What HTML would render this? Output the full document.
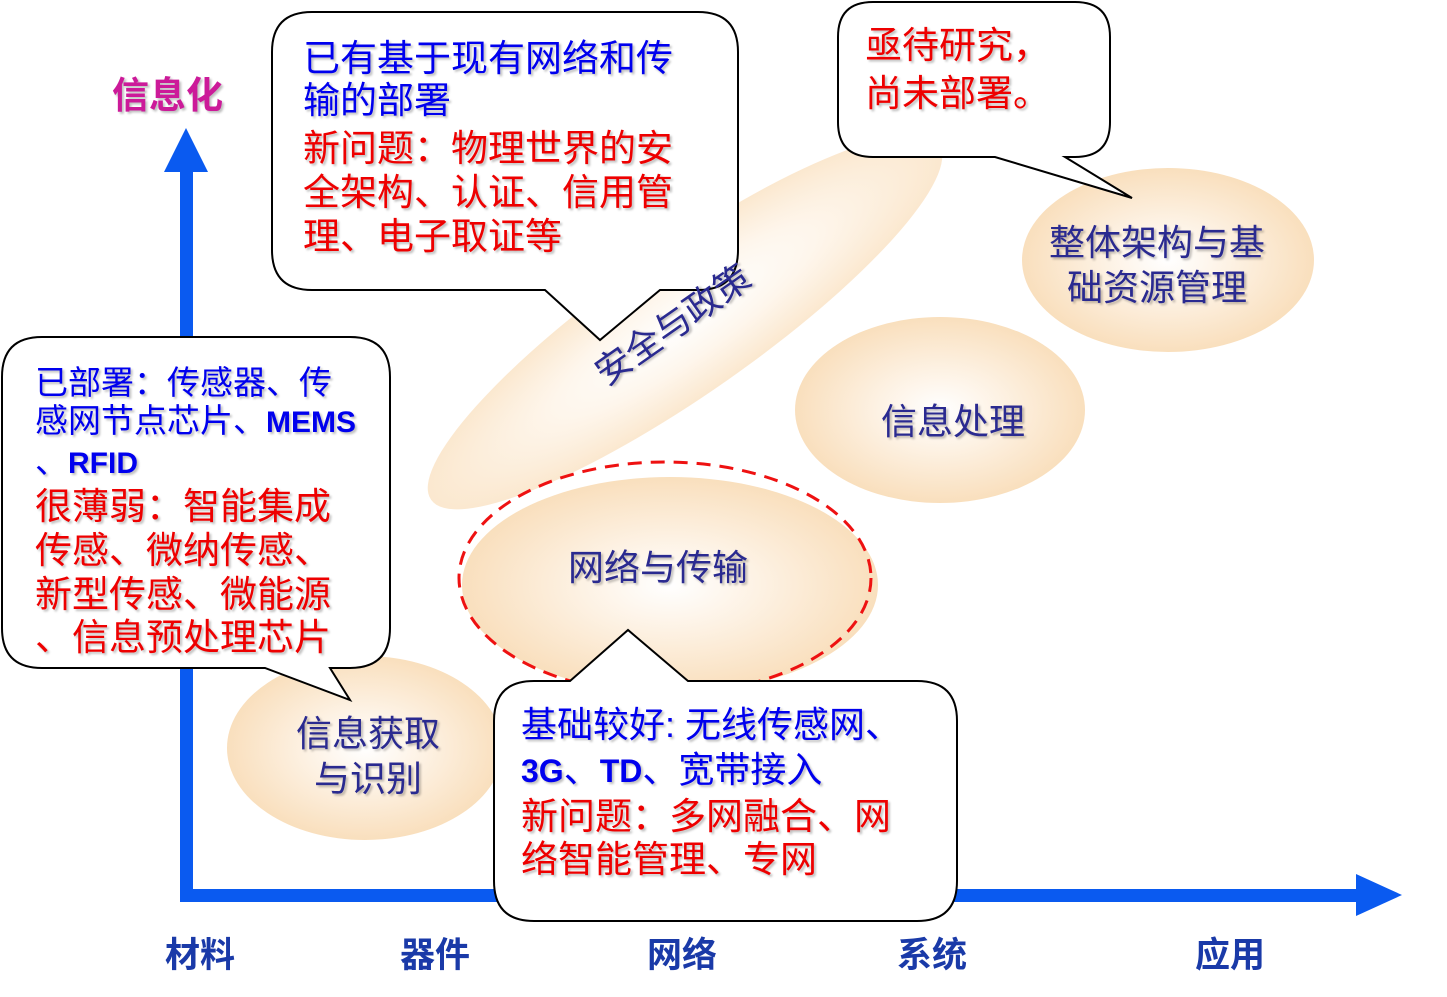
<!DOCTYPE html>
<html><head><meta charset="utf-8"><style>
html,body{margin:0;padding:0;background:#fff;}
svg{display:block;}
text{font-family:"Liberation Sans","Noto Sans CJK SC","WenQuanYi Zen Hei",sans-serif;}
.sf{font-family:"Liberation Serif","Noto Serif CJK SC",serif;}
.sh{text-shadow:2px 2px 2px rgba(0,0,0,0.25);}
.b{fill:#0000ee;}
.r{fill:#ee0000;}
.ax{fill:#1a3aa8;font-weight:bold;font-size:35px;}
.el{fill:#2a2a90;font-size:36px;}
</style></head><body>
<svg width="1447" height="997" viewBox="0 0 1447 997" xmlns="http://www.w3.org/2000/svg">
<defs>
<radialGradient id="g" cx="50%" cy="50%" r="50%">
<stop offset="0" stop-color="#ffffff"/>
<stop offset="0.45" stop-color="#fdf1e2"/>
<stop offset="1" stop-color="#f9dfbd"/>
</radialGradient>
<radialGradient id="g2" cx="50%" cy="50%" r="50%">
<stop offset="0" stop-color="#ffffff"/>
<stop offset="0.5" stop-color="#fef6ec"/>
<stop offset="1" stop-color="#fbe8cf"/>
</radialGradient>
</defs>
<ellipse cx="685" cy="322" rx="310" ry="72" fill="url(#g2)" transform="rotate(-35 685 322)"/>
<ellipse cx="1168" cy="260" rx="146" ry="92" fill="url(#g)"/>
<ellipse cx="940" cy="410" rx="145" ry="93" fill="url(#g)"/>
<ellipse cx="670" cy="585" rx="208" ry="108" fill="url(#g)"/>
<ellipse cx="365" cy="748" rx="138" ry="92" fill="url(#g)"/>
<ellipse cx="665" cy="578" rx="206" ry="116" fill="none" stroke="#ee1111" stroke-width="3" stroke-dasharray="14 9"/>

<rect x="180" y="165" width="13" height="736" fill="#0a5af0"/>
<polygon points="186,128 164,172 208,172" fill="#0a5af0"/>
<rect x="180" y="889" width="1185" height="13" fill="#0a5af0"/>
<polygon points="1402,895 1356,874 1356,916" fill="#0a5af0"/>

<text class="el sh" x="1157" y="255" text-anchor="middle">整体架构与基</text>
<text class="el sh" x="1157" y="300" text-anchor="middle">础资源管理</text>
<text class="el sh" x="953" y="434" text-anchor="middle">信息处理</text>
<text class="el sh" x="658" y="580" text-anchor="middle">网络与传输</text>
<text class="el sh" x="368" y="746" text-anchor="middle">信息获取</text>
<text class="el sh" x="368" y="791" text-anchor="middle">与识别</text>

<path d="M312,12 H698 Q738,12 738,52 V250 Q738,290 698,290 H660 L600,340 L545,290 H312 Q272,290 272,250 V52 Q272,12 312,12 Z" fill="#fff" stroke="#000" stroke-width="2"/>
<g font-size="37" class="sh sf">
<text class="b" x="303" y="71">已有基于现有网络和传</text>
<text class="b" x="303" y="113">输的部署</text>
<text class="r" x="303" y="161">新问题：物理世界的安</text>
<text class="r" x="303" y="205">全架构、认证、信用管</text>
<text class="r" x="303" y="249">理、电子取证等</text>
</g>

<text class="el sh" x="680" y="335" transform="rotate(-35 680 335)" text-anchor="middle" font-size="34">安全与政策</text>

<path d="M873,2 H1075 Q1110,2 1110,37 V122 Q1110,157 1075,157 H1065 L1132,198 L995,157 H873 Q838,157 838,122 V37 Q838,2 873,2 Z" fill="#fff" stroke="#000" stroke-width="2"/>
<g font-size="37" class="sh sf">
<text class="r" x="865" y="58">亟待研究，</text>
<text class="r" x="865" y="106">尚未部署。</text>
</g>

<path d="M42,337 H350 Q390,337 390,377 V628 Q390,668 350,668 H330 L350,700 L265,668 H42 Q2,668 2,628 V377 Q2,337 42,337 Z" fill="#fff" stroke="#000" stroke-width="2"/>
<g class="sh sf">
<text class="b" x="35" y="394" font-size="33">已部署：传感器、传</text>
<text class="b" x="35" y="432" font-size="33">感网节点芯片、<tspan font-weight="bold" font-size="30" font-family="Liberation Sans">MEMS</tspan></text>
<text class="b" x="35" y="473" font-size="33">、<tspan font-weight="bold" font-size="30" font-family="Liberation Sans">RFID</tspan></text>
<text class="r" x="35" y="519" font-size="37">很薄弱：智能集成</text>
<text class="r" x="35" y="563" font-size="37">传感、微纳传感、</text>
<text class="r" x="35" y="607" font-size="37">新型传感、微能源</text>
<text class="r" x="35" y="650" font-size="37">、信息预处理芯片</text>
</g>

<path d="M534,681 H570 L628,630 L688,681 H917 Q957,681 957,721 V881 Q957,921 917,921 H534 Q494,921 494,881 V721 Q494,681 534,681 Z" fill="#fff" stroke="#000" stroke-width="2"/>
<g font-size="36" class="sh sf">
<text class="b" x="521" y="737">基础较好: 无线传感网、</text>
<text class="b" x="521" y="782"><tspan font-weight="bold" font-size="32" font-family="Liberation Sans">3G</tspan>、<tspan font-weight="bold" font-size="32" font-family="Liberation Sans">TD</tspan>、宽带接入</text>
<text class="r" x="521" y="829" font-size="37">新问题：多网融合、网</text>
<text class="r" x="521" y="872" font-size="37">络智能管理、专网</text>
</g>

<text x="112" y="108" font-size="37" font-weight="bold" fill="#cc1a99" class="sh">信息化</text>
<text class="ax" x="200" y="967" text-anchor="middle">材料</text>
<text class="ax" x="435" y="967" text-anchor="middle">器件</text>
<text class="ax" x="682" y="967" text-anchor="middle">网络</text>
<text class="ax" x="932" y="967" text-anchor="middle">系统</text>
<text class="ax" x="1230" y="967" text-anchor="middle">应用</text>
</svg>
</body></html>
